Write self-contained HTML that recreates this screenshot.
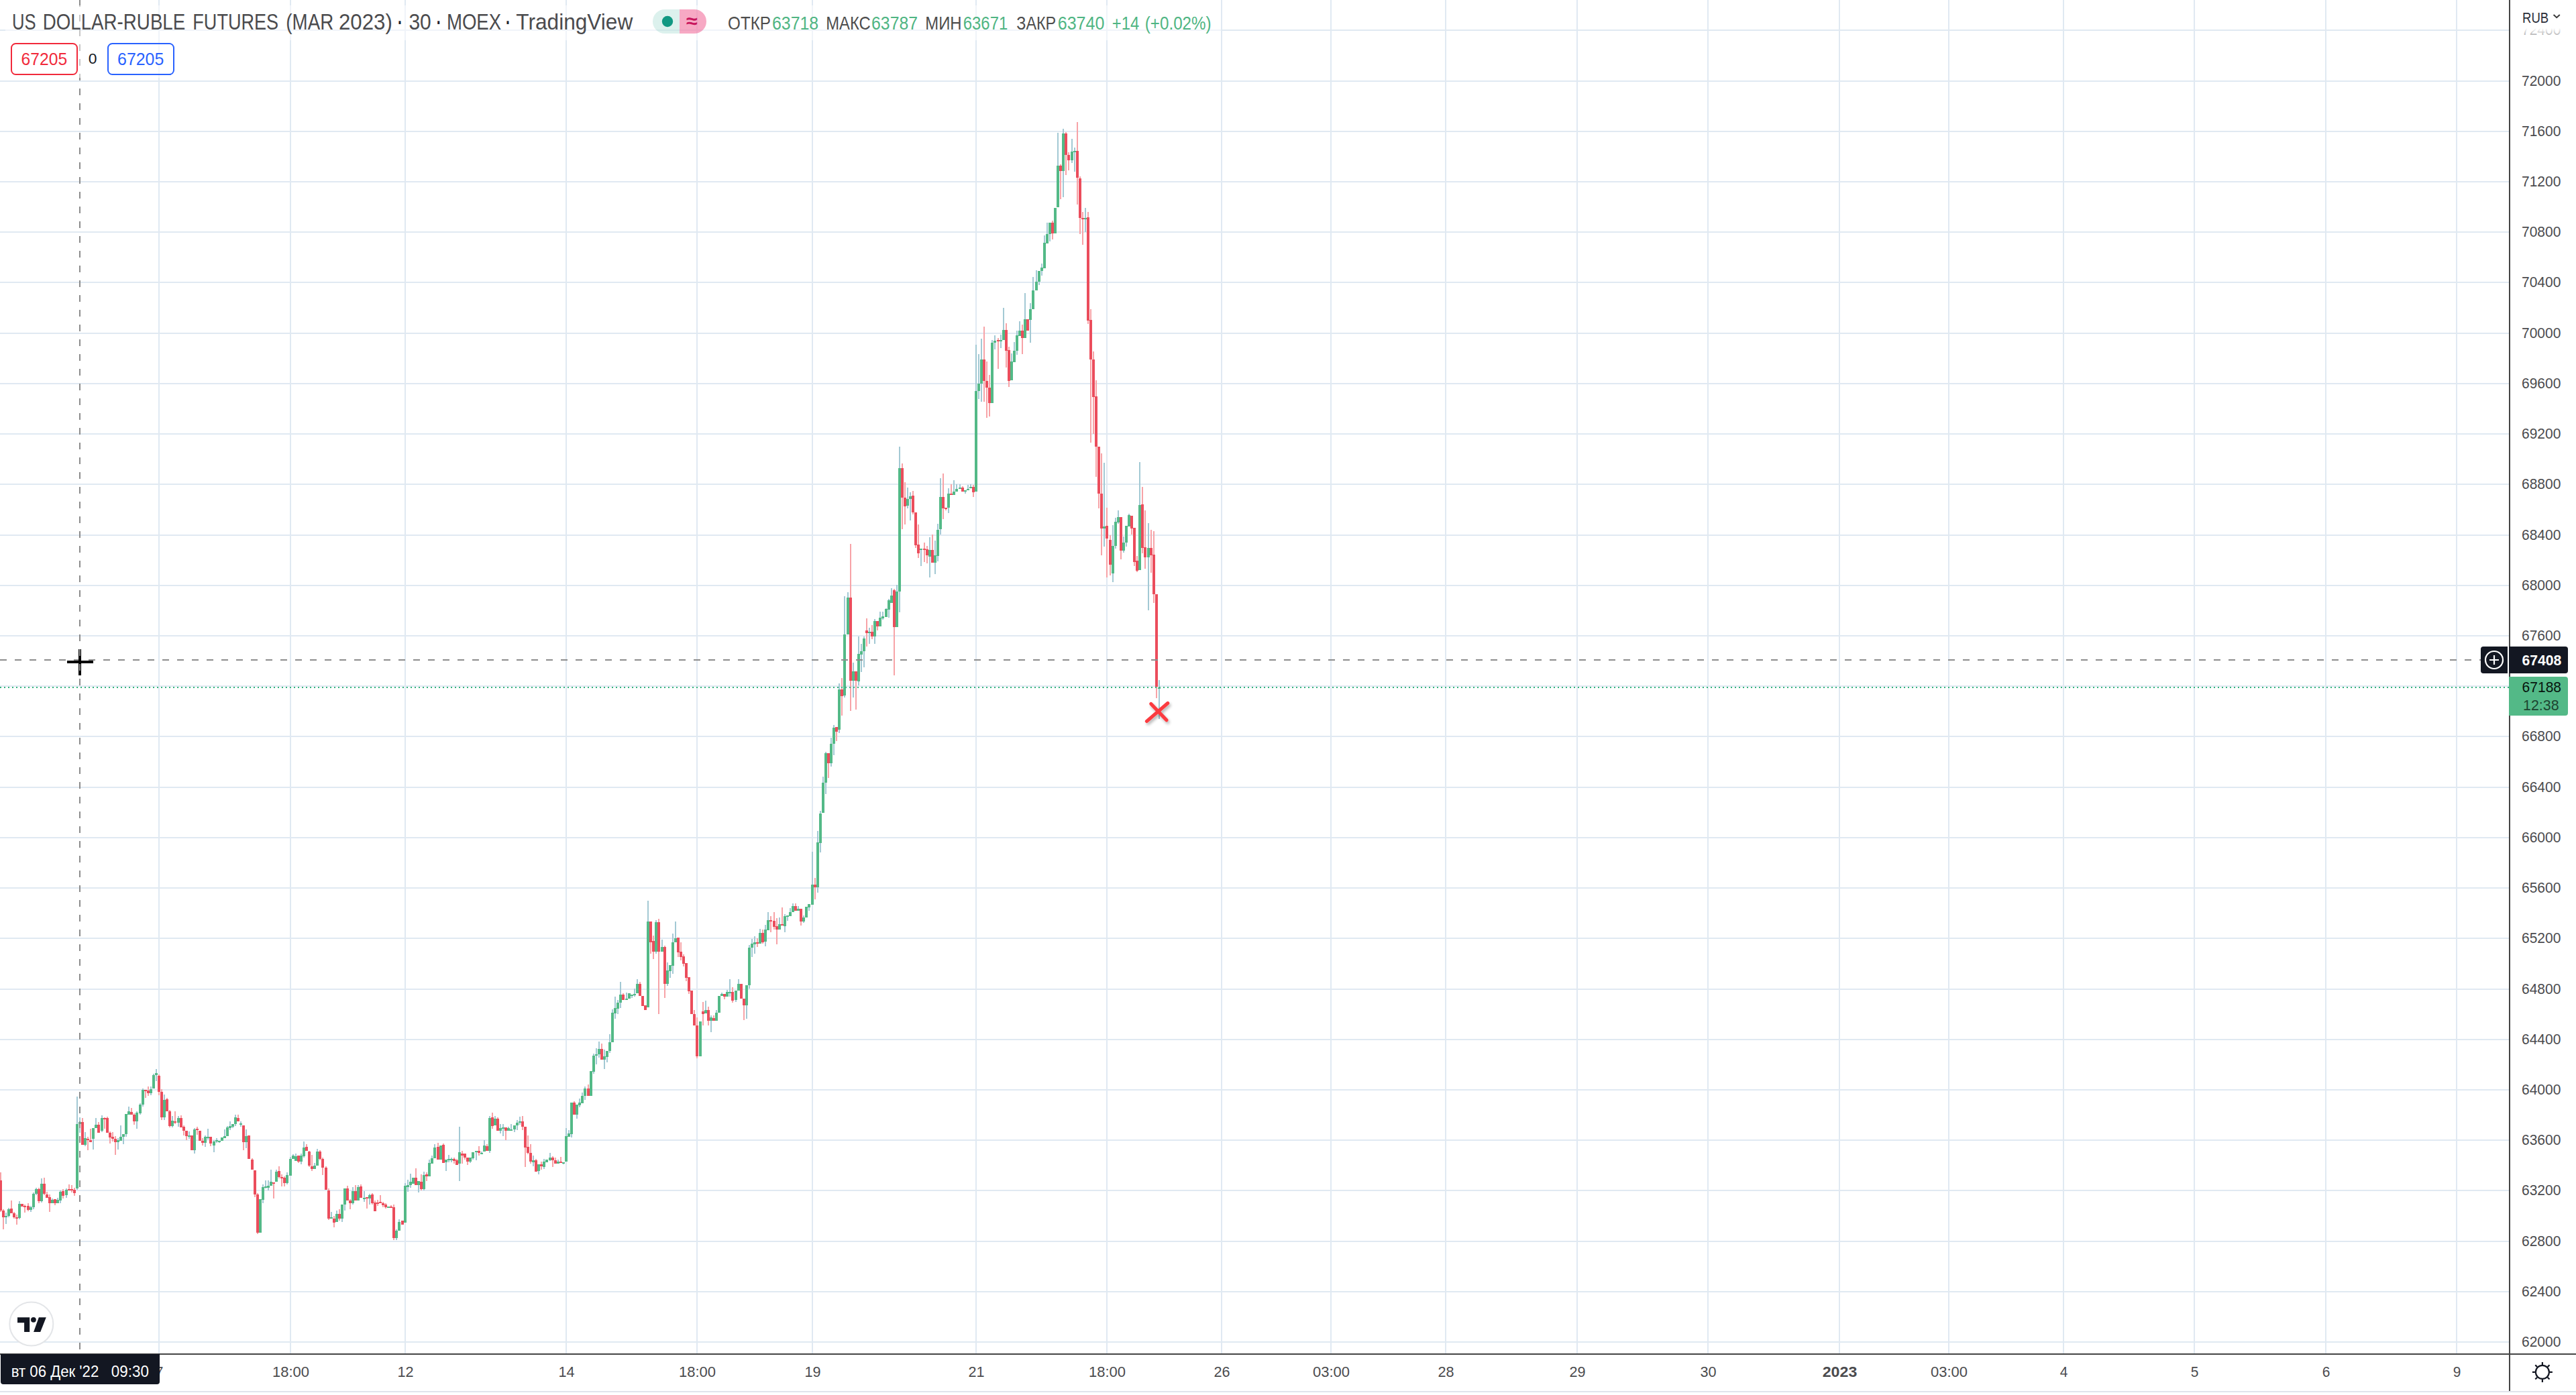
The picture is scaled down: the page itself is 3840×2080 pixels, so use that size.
<!DOCTYPE html>
<html lang="ru"><head><meta charset="utf-8"><title>US DOLLAR-RUBLE FUTURES</title>
<style>html,body{margin:0;padding:0;background:#fff}svg{display:block;width:100vw;height:auto}</style></head>
<body>
<svg width="3840" height="2080" viewBox="0 0 3840 2080" font-family='"Liberation Sans", sans-serif' shape-rendering="crispEdges">
<rect x="0" y="0" width="3840" height="2080" fill="#ffffff"/>
<g fill="#e0e9f2">
<rect x="236" y="0" width="2" height="2018" fill="#e0e9f2"/>
<rect x="432" y="0" width="2" height="2018" fill="#e0e9f2"/>
<rect x="603" y="0" width="2" height="2018" fill="#e0e9f2"/>
<rect x="843" y="0" width="2" height="2018" fill="#e0e9f2"/>
<rect x="1038" y="0" width="2" height="2018" fill="#e0e9f2"/>
<rect x="1210" y="0" width="2" height="2018" fill="#e0e9f2"/>
<rect x="1454" y="0" width="2" height="2018" fill="#e0e9f2"/>
<rect x="1649" y="0" width="2" height="2018" fill="#e0e9f2"/>
<rect x="1820" y="0" width="2" height="2018" fill="#e0e9f2"/>
<rect x="1983" y="0" width="2" height="2018" fill="#e0e9f2"/>
<rect x="2154" y="0" width="2" height="2018" fill="#e0e9f2"/>
<rect x="2350" y="0" width="2" height="2018" fill="#e0e9f2"/>
<rect x="2545" y="0" width="2" height="2018" fill="#e0e9f2"/>
<rect x="2741" y="0" width="2" height="2018" fill="#e0e9f2"/>
<rect x="2904" y="0" width="2" height="2018" fill="#e0e9f2"/>
<rect x="3075" y="0" width="2" height="2018" fill="#e0e9f2"/>
<rect x="3270" y="0" width="2" height="2018" fill="#e0e9f2"/>
<rect x="3466" y="0" width="2" height="2018" fill="#e0e9f2"/>
<rect x="3661" y="0" width="2" height="2018" fill="#e0e9f2"/>
<rect x="0" y="44" width="3740" height="2" fill="#e0e9f2"/>
<rect x="0" y="120" width="3740" height="2" fill="#e0e9f2"/>
<rect x="0" y="195" width="3740" height="2" fill="#e0e9f2"/>
<rect x="0" y="270" width="3740" height="2" fill="#e0e9f2"/>
<rect x="0" y="345" width="3740" height="2" fill="#e0e9f2"/>
<rect x="0" y="420" width="3740" height="2" fill="#e0e9f2"/>
<rect x="0" y="496" width="3740" height="2" fill="#e0e9f2"/>
<rect x="0" y="571" width="3740" height="2" fill="#e0e9f2"/>
<rect x="0" y="646" width="3740" height="2" fill="#e0e9f2"/>
<rect x="0" y="721" width="3740" height="2" fill="#e0e9f2"/>
<rect x="0" y="797" width="3740" height="2" fill="#e0e9f2"/>
<rect x="0" y="872" width="3740" height="2" fill="#e0e9f2"/>
<rect x="0" y="947" width="3740" height="2" fill="#e0e9f2"/>
<rect x="0" y="1022" width="3740" height="2" fill="#e0e9f2"/>
<rect x="0" y="1097" width="3740" height="2" fill="#e0e9f2"/>
<rect x="0" y="1173" width="3740" height="2" fill="#e0e9f2"/>
<rect x="0" y="1248" width="3740" height="2" fill="#e0e9f2"/>
<rect x="0" y="1323" width="3740" height="2" fill="#e0e9f2"/>
<rect x="0" y="1398" width="3740" height="2" fill="#e0e9f2"/>
<rect x="0" y="1474" width="3740" height="2" fill="#e0e9f2"/>
<rect x="0" y="1549" width="3740" height="2" fill="#e0e9f2"/>
<rect x="0" y="1624" width="3740" height="2" fill="#e0e9f2"/>
<rect x="0" y="1699" width="3740" height="2" fill="#e0e9f2"/>
<rect x="0" y="1774" width="3740" height="2" fill="#e0e9f2"/>
<rect x="0" y="1850" width="3740" height="2" fill="#e0e9f2"/>
<rect x="0" y="1925" width="3740" height="2" fill="#e0e9f2"/>
<rect x="0" y="2000" width="3740" height="2" fill="#e0e9f2"/>
</g>
<path d="M8 1808h2v17h-2zM12 1801h2v14h-2zM28 1791h2v27h-2zM45 1798h2v9h-2zM49 1778h2v25h-2zM53 1771h2v11h-2zM61 1757h2v36h-2zM77 1787h2v7h-2zM85 1786h2v8h-2zM89 1775h2v19h-2zM98 1772h2v14h-2zM114 1635h2v139h-2zM118 1666h2v23h-2zM126 1688h2v21h-2zM138 1682h2v32h-2zM142 1667h2v15h-2zM151 1663h2v25h-2zM175 1697h2v17h-2zM179 1678h2v23h-2zM183 1691h2v15h-2zM187 1661h2v34h-2zM191 1650h2v12h-2zM203 1657h2v26h-2zM208 1645h2v17h-2zM212 1623h2v27h-2zM224 1620h2v13h-2zM228 1601h2v22h-2zM232 1594h2v18h-2zM244 1632h2v38h-2zM256 1664h2v17h-2zM265 1664h2v16h-2zM281 1687h2v11h-2zM289 1682h2v38h-2zM305 1693h2v17h-2zM309 1683h2v16h-2zM318 1700h2v18h-2zM322 1697h2v7h-2zM326 1701h2v3h-2zM330 1696h2v5h-2zM334 1684h2v13h-2zM338 1679h2v15h-2zM342 1672h2v13h-2zM346 1676h2v6h-2zM350 1662h2v17h-2zM358 1672h2v8h-2zM366 1684h2v28h-2zM387 1788h2v50h-2zM391 1766h2v28h-2zM395 1760h2v12h-2zM399 1760h2v15h-2zM403 1744h2v24h-2zM411 1744h2v18h-2zM427 1748h2v18h-2zM432 1725h2v28h-2zM436 1721h2v7h-2zM440 1720h2v11h-2zM448 1720h2v16h-2zM452 1702h2v24h-2zM468 1734h2v9h-2zM472 1713h2v25h-2zM493 1807h2v10h-2zM501 1805h2v17h-2zM509 1796h2v26h-2zM513 1772h2v33h-2zM525 1770h2v26h-2zM533 1767h2v23h-2zM542 1776h2v16h-2zM550 1780h2v16h-2zM578 1799h2v1h-2zM590 1833h2v16h-2zM594 1818h2v17h-2zM603 1764h2v59h-2zM607 1759h2v18h-2zM611 1750h2v21h-2zM615 1756h2v9h-2zM623 1761h2v17h-2zM631 1747h2v28h-2zM639 1729h2v25h-2zM643 1723h2v12h-2zM647 1706h2v21h-2zM656 1708h2v21h-2zM664 1729h2v17h-2zM668 1722h2v11h-2zM672 1726h2v7h-2zM684 1680h2v81h-2zM700 1726h2v8h-2zM704 1718h2v11h-2zM709 1716h2v14h-2zM717 1717h2v4h-2zM721 1700h2v17h-2zM729 1664h2v55h-2zM737 1664h2v14h-2zM745 1676h2v14h-2zM749 1676h2v18h-2zM757 1680h2v6h-2zM761 1676h2v9h-2zM766 1678h2v10h-2zM770 1670h2v15h-2zM774 1665h2v12h-2zM794 1723h2v16h-2zM802 1736h2v15h-2zM810 1728h2v15h-2zM814 1729h2v4h-2zM819 1719h2v12h-2zM831 1729h2v6h-2zM839 1733h2v3h-2zM843 1682h2v50h-2zM847 1685h2v10h-2zM851 1644h2v52h-2zM859 1647h2v21h-2zM863 1638h2v13h-2zM867 1629h2v16h-2zM871 1620h2v20h-2zM880 1597h2v37h-2zM884 1571h2v30h-2zM888 1563h2v24h-2zM892 1553h2v24h-2zM900 1565h2v29h-2zM904 1567h2v17h-2zM908 1542h2v28h-2zM912 1505h2v49h-2zM916 1486h2v33h-2zM920 1491h2v21h-2zM924 1464h2v39h-2zM933 1480h2v10h-2zM937 1481h2v8h-2zM941 1483h2v5h-2zM945 1474h2v12h-2zM949 1460h2v21h-2zM965 1343h2v159h-2zM977 1372h2v50h-2zM986 1401h2v18h-2zM994 1435h2v35h-2zM998 1439h2v19h-2zM1002 1392h2v60h-2zM1006 1374h2v31h-2zM1043 1523h2v52h-2zM1051 1492h2v19h-2zM1059 1514h2v25h-2zM1067 1506h2v16h-2zM1071 1485h2v25h-2zM1075 1480h2v5h-2zM1083 1476h2v10h-2zM1087 1460h2v26h-2zM1096 1477h2v17h-2zM1100 1460h2v17h-2zM1112 1469h2v50h-2zM1116 1409h2v65h-2zM1120 1400h2v27h-2zM1124 1396h2v26h-2zM1132 1385h2v22h-2zM1140 1379h2v32h-2zM1144 1360h2v27h-2zM1161 1368h2v18h-2zM1169 1363h2v27h-2zM1173 1365h2v8h-2zM1177 1354h2v12h-2zM1181 1347h2v13h-2zM1189 1351h2v7h-2zM1197 1365h2v11h-2zM1201 1352h2v16h-2zM1205 1348h2v10h-2zM1210 1270h2v79h-2zM1218 1239h2v92h-2zM1222 1209h2v62h-2zM1226 1158h2v54h-2zM1230 1121h2v63h-2zM1238 1100h2v43h-2zM1242 1081h2v45h-2zM1250 1019h2v74h-2zM1258 889h2v151h-2zM1263 883h2v63h-2zM1271 988h2v52h-2zM1279 949h2v73h-2zM1283 960h2v42h-2zM1287 949h2v46h-2zM1295 936h2v24h-2zM1303 923h2v37h-2zM1311 912h2v22h-2zM1315 912h2v12h-2zM1320 907h2v13h-2zM1324 893h2v28h-2zM1328 877h2v22h-2zM1336 872h2v63h-2zM1340 666h2v247h-2zM1352 727h2v31h-2zM1356 734h2v42h-2zM1372 818h2v26h-2zM1385 801h2v60h-2zM1393 806h2v50h-2zM1397 781h2v56h-2zM1401 713h2v84h-2zM1413 728h2v37h-2zM1421 716h2v22h-2zM1425 722h2v11h-2zM1430 722h2v7h-2zM1438 731h2v5h-2zM1442 723h2v6h-2zM1446 722h2v5h-2zM1454 514h2v219h-2zM1458 528h2v67h-2zM1462 505h2v94h-2zM1478 507h2v94h-2zM1482 500h2v21h-2zM1491 499h2v20h-2zM1495 459h2v48h-2zM1507 527h2v40h-2zM1511 510h2v30h-2zM1515 493h2v36h-2zM1519 479h2v22h-2zM1527 437h2v67h-2zM1535 452h2v59h-2zM1539 413h2v48h-2zM1544 403h2v30h-2zM1548 404h2v21h-2zM1552 393h2v18h-2zM1556 351h2v49h-2zM1560 332h2v31h-2zM1564 332h2v28h-2zM1572 310h2v38h-2zM1576 198h2v111h-2zM1584 192h2v102h-2zM1597 207h2v36h-2zM1601 220h2v36h-2zM1617 310h2v36h-2zM1645 690h2v125h-2zM1658 783h2v85h-2zM1662 772h2v46h-2zM1666 761h2v20h-2zM1674 800h2v24h-2zM1678 784h2v31h-2zM1682 766h2v19h-2zM1698 689h2v161h-2zM1711 780h2v130h-2zM1727 1014h2v58h-2z" fill="#a3c9d4"/>
<path d="M0 1748h2v59h-2zM4 1803h2v30h-2zM16 1790h2v19h-2zM20 1807h2v10h-2zM24 1811h2v15h-2zM32 1795h2v4h-2zM36 1796h2v12h-2zM41 1794h2v12h-2zM57 1771h2v23h-2zM65 1756h2v26h-2zM69 1777h2v9h-2zM73 1781h2v26h-2zM81 1788h2v9h-2zM93 1773h2v14h-2zM102 1766h2v9h-2zM106 1767h2v11h-2zM110 1771h2v12h-2zM122 1667h2v40h-2zM130 1695h2v20h-2zM134 1683h2v20h-2zM146 1673h2v16h-2zM155 1666h2v17h-2zM159 1665h2v24h-2zM163 1687h2v18h-2zM167 1688h2v14h-2zM171 1694h2v28h-2zM195 1652h2v10h-2zM199 1660h2v17h-2zM216 1625h2v12h-2zM220 1620h2v14h-2zM236 1602h2v31h-2zM240 1624h2v46h-2zM248 1637h2v20h-2zM252 1655h2v26h-2zM260 1657h2v19h-2zM269 1663h2v18h-2zM273 1678h2v15h-2zM277 1686h2v14h-2zM285 1693h2v22h-2zM293 1680h2v12h-2zM297 1686h2v15h-2zM301 1697h2v11h-2zM313 1695h2v14h-2zM354 1662h2v10h-2zM362 1678h2v37h-2zM370 1693h2v35h-2zM375 1727h2v17h-2zM379 1745h2v40h-2zM383 1779h2v61h-2zM407 1763h2v24h-2zM415 1739h2v18h-2zM419 1751h2v18h-2zM423 1754h2v15h-2zM444 1723h2v11h-2zM456 1706h2v10h-2zM460 1716h2v24h-2zM464 1722h2v24h-2zM476 1715h2v15h-2zM480 1726h2v26h-2zM485 1739h2v35h-2zM489 1772h2v47h-2zM497 1813h2v17h-2zM505 1803h2v17h-2zM517 1768h2v22h-2zM521 1788h2v15h-2zM529 1767h2v23h-2zM537 1766h2v20h-2zM546 1785h2v17h-2zM554 1779h2v17h-2zM558 1790h2v16h-2zM562 1789h2v9h-2zM566 1782h2v12h-2zM570 1792h2v8h-2zM574 1794h2v8h-2zM582 1797h2v3h-2zM586 1796h2v53h-2zM599 1820h2v6h-2zM619 1742h2v25h-2zM627 1751h2v24h-2zM635 1748h2v13h-2zM652 1704h2v25h-2zM660 1705h2v29h-2zM676 1726h2v9h-2zM680 1728h2v9h-2zM688 1716h2v19h-2zM692 1720h2v9h-2zM696 1726h2v11h-2zM713 1709h2v14h-2zM725 1706h2v10h-2zM733 1659h2v24h-2zM741 1666h2v20h-2zM753 1681h2v19h-2zM778 1664h2v21h-2zM782 1680h2v60h-2zM786 1693h2v28h-2zM790 1706h2v29h-2zM798 1728h2v19h-2zM806 1732h2v12h-2zM823 1724h2v16h-2zM827 1726h2v9h-2zM835 1725h2v9h-2zM855 1642h2v20h-2zM876 1617h2v17h-2zM896 1556h2v24h-2zM928 1481h2v10h-2zM953 1464h2v21h-2zM957 1485h2v15h-2zM961 1499h2v7h-2zM969 1374h2v48h-2zM973 1395h2v35h-2zM981 1370h2v142h-2zM990 1410h2v78h-2zM1010 1398h2v29h-2zM1014 1405h2v27h-2zM1018 1423h2v18h-2zM1022 1436h2v27h-2zM1026 1457h2v25h-2zM1030 1477h2v35h-2zM1034 1506h2v23h-2zM1038 1517h2v61h-2zM1047 1494h2v35h-2zM1055 1501h2v28h-2zM1063 1514h2v8h-2zM1079 1482h2v8h-2zM1091 1472h2v23h-2zM1104 1467h2v22h-2zM1108 1489h2v32h-2zM1128 1399h2v13h-2zM1136 1386h2v21h-2zM1148 1366h2v24h-2zM1153 1360h2v26h-2zM1157 1369h2v39h-2zM1165 1353h2v27h-2zM1185 1347h2v11h-2zM1193 1355h2v25h-2zM1214 1309h2v32h-2zM1234 1123h2v37h-2zM1246 1084h2v21h-2zM1254 1011h2v56h-2zM1267 811h2v249h-2zM1275 1001h2v57h-2zM1291 922h2v42h-2zM1299 932h2v21h-2zM1307 926h2v14h-2zM1332 878h2v129h-2zM1344 691h2v98h-2zM1348 719h2v63h-2zM1360 732h2v35h-2zM1364 764h2v53h-2zM1368 782h2v50h-2zM1377 809h2v29h-2zM1381 814h2v26h-2zM1389 797h2v42h-2zM1405 706h2v68h-2zM1409 757h2v4h-2zM1417 722h2v16h-2zM1434 725h2v8h-2zM1450 723h2v18h-2zM1466 487h2v112h-2zM1470 539h2v84h-2zM1474 559h2v62h-2zM1487 504h2v46h-2zM1499 482h2v66h-2zM1503 517h2v60h-2zM1523 484h2v44h-2zM1531 476h2v17h-2zM1568 329h2v28h-2zM1580 245h2v52h-2zM1588 197h2v64h-2zM1592 227h2v27h-2zM1605 182h2v123h-2zM1609 263h2v86h-2zM1613 316h2v49h-2zM1621 316h2v167h-2zM1625 461h2v199h-2zM1629 524h2v123h-2zM1633 567h2v144h-2zM1637 666h2v92h-2zM1641 676h2v152h-2zM1649 757h2v104h-2zM1654 798h2v60h-2zM1670 771h2v63h-2zM1686 769h2v28h-2zM1690 787h2v57h-2zM1694 829h2v24h-2zM1702 726h2v99h-2zM1706 761h2v87h-2zM1715 790h2v64h-2zM1719 792h2v107h-2zM1723 886h2v155h-2z" fill="#f7a3a7"/>
<path d="M7 1813h4v2h-4zM11 1803h4v10h-4zM27 1795h4v21h-4zM44 1800h4v4h-4zM48 1780h4v20h-4zM52 1773h4v7h-4zM60 1765h4v26h-4zM76 1789h4v5h-4zM84 1789h4v5h-4zM88 1777h4v13h-4zM97 1774h4v8h-4zM113 1676h4v96h-4zM117 1673h4v3h-4zM125 1697h4v10h-4zM137 1682h4v16h-4zM141 1677h4v5h-4zM150 1667h4v19h-4zM174 1700h4v3h-4zM178 1695h4v6h-4zM182 1691h4v4h-4zM186 1661h4v30h-4zM190 1657h4v5h-4zM202 1659h4v13h-4zM207 1647h4v13h-4zM211 1625h4v22h-4zM223 1624h4v6h-4zM227 1603h4v20h-4zM231 1600h4v3h-4zM243 1640h4v26h-4zM255 1671h4v8h-4zM264 1667h4v7h-4zM280 1693h4v2h-4zM288 1684h4v31h-4zM304 1695h4v9h-4zM308 1695h4v2h-4zM317 1702h4v6h-4zM321 1700h4v2h-4zM325 1701h4v2h-4zM329 1696h4v5h-4zM333 1694h4v3h-4zM337 1681h4v13h-4zM341 1679h4v3h-4zM345 1676h4v4h-4zM349 1666h4v10h-4zM357 1675h4v2h-4zM365 1694h4v9h-4zM386 1788h4v50h-4zM390 1770h4v19h-4zM394 1769h4v2h-4zM398 1768h4v3h-4zM402 1762h4v6h-4zM410 1747h4v15h-4zM426 1752h4v12h-4zM431 1728h4v25h-4zM435 1723h4v5h-4zM439 1724h4v7h-4zM447 1723h4v9h-4zM451 1711h4v13h-4zM467 1738h4v5h-4zM471 1717h4v21h-4zM492 1815h4v2h-4zM500 1810h4v12h-4zM508 1796h4v21h-4zM512 1772h4v24h-4zM524 1776h4v18h-4zM532 1770h4v20h-4zM541 1786h4v2h-4zM549 1782h4v5h-4zM577 1799h4v2h-4zM589 1835h4v11h-4zM593 1822h4v13h-4zM602 1768h4v55h-4zM606 1767h4v3h-4zM610 1762h4v5h-4zM614 1756h4v9h-4zM622 1761h4v6h-4zM630 1752h4v21h-4zM638 1734h4v20h-4zM642 1727h4v8h-4zM646 1711h4v16h-4zM655 1708h4v21h-4zM663 1729h4v4h-4zM667 1728h4v2h-4zM671 1728h4v2h-4zM683 1718h4v17h-4zM699 1726h4v6h-4zM703 1718h4v9h-4zM708 1716h4v2h-4zM716 1719h4v2h-4zM720 1708h4v9h-4zM728 1667h4v49h-4zM736 1668h4v10h-4zM744 1682h4v4h-4zM748 1681h4v2h-4zM756 1682h4v4h-4zM760 1684h4v2h-4zM765 1678h4v6h-4zM769 1674h4v4h-4zM773 1672h4v2h-4zM793 1730h4v3h-4zM801 1736h4v10h-4zM809 1732h4v8h-4zM813 1729h4v4h-4zM818 1726h4v4h-4zM830 1732h4v3h-4zM838 1733h4v2h-4zM842 1694h4v38h-4zM846 1690h4v5h-4zM850 1644h4v47h-4zM858 1647h4v15h-4zM862 1644h4v4h-4zM866 1634h4v11h-4zM870 1623h4v11h-4zM879 1597h4v37h-4zM883 1574h4v24h-4zM887 1572h4v2h-4zM891 1564h4v8h-4zM899 1575h4v5h-4zM903 1567h4v9h-4zM907 1554h4v13h-4zM911 1510h4v44h-4zM915 1503h4v8h-4zM919 1495h4v9h-4zM923 1483h4v12h-4zM932 1489h4v2h-4zM936 1481h4v8h-4zM940 1483h4v2h-4zM944 1482h4v2h-4zM948 1467h4v14h-4zM964 1374h4v128h-4zM976 1375h4v44h-4zM985 1412h4v7h-4zM993 1447h4v20h-4zM997 1439h4v9h-4zM1001 1405h4v35h-4zM1005 1399h4v6h-4zM1042 1523h4v52h-4zM1050 1506h4v5h-4zM1058 1517h4v5h-4zM1066 1510h4v12h-4zM1070 1485h4v25h-4zM1074 1482h4v3h-4zM1082 1479h4v7h-4zM1086 1479h4v2h-4zM1095 1477h4v14h-4zM1099 1467h4v10h-4zM1111 1469h4v30h-4zM1115 1413h4v56h-4zM1119 1407h4v6h-4zM1123 1405h4v3h-4zM1131 1391h4v16h-4zM1139 1386h4v18h-4zM1143 1372h4v15h-4zM1160 1378h4v8h-4zM1168 1366h4v15h-4zM1172 1365h4v2h-4zM1176 1360h4v6h-4zM1180 1351h4v9h-4zM1188 1355h4v3h-4zM1196 1368h4v6h-4zM1200 1352h4v16h-4zM1204 1348h4v5h-4zM1209 1319h4v30h-4zM1217 1256h4v67h-4zM1221 1213h4v44h-4zM1225 1167h4v45h-4zM1229 1123h4v44h-4zM1237 1109h4v29h-4zM1241 1085h4v24h-4zM1249 1028h4v60h-4zM1257 946h4v91h-4zM1262 891h4v55h-4zM1270 1001h4v14h-4zM1278 975h4v41h-4zM1282 971h4v5h-4zM1286 952h4v19h-4zM1294 942h4v2h-4zM1302 926h4v23h-4zM1310 921h4v13h-4zM1314 919h4v3h-4zM1319 908h4v12h-4zM1323 895h4v14h-4zM1327 888h4v11h-4zM1335 882h4v53h-4zM1339 698h4v184h-4zM1351 744h4v10h-4zM1355 740h4v4h-4zM1371 818h4v2h-4zM1384 820h4v10h-4zM1392 828h4v11h-4zM1396 790h4v39h-4zM1400 741h4v48h-4zM1412 736h4v21h-4zM1420 733h4v5h-4zM1424 729h4v4h-4zM1429 727h4v2h-4zM1437 731h4v2h-4zM1441 729h4v2h-4zM1445 726h4v2h-4zM1453 583h4v150h-4zM1457 572h4v11h-4zM1461 536h4v36h-4zM1477 511h4v90h-4zM1481 508h4v3h-4zM1490 507h4v2h-4zM1494 492h4v15h-4zM1506 539h4v28h-4zM1510 523h4v17h-4zM1514 500h4v23h-4zM1518 493h4v8h-4zM1526 476h4v28h-4zM1534 461h4v16h-4zM1538 433h4v28h-4zM1543 420h4v13h-4zM1547 404h4v16h-4zM1551 399h4v5h-4zM1555 362h4v38h-4zM1559 349h4v14h-4zM1563 332h4v17h-4zM1571 310h4v38h-4zM1575 247h4v62h-4zM1583 199h4v56h-4zM1596 226h4v13h-4zM1600 225h4v2h-4zM1616 325h4v2h-4zM1644 785h4v3h-4zM1657 814h4v41h-4zM1661 778h4v36h-4zM1665 771h4v8h-4zM1673 809h4v12h-4zM1677 784h4v25h-4zM1681 768h4v17h-4zM1697 753h4v97h-4zM1710 817h4v14h-4zM1726 1025h4v2h-4z" fill="#53b987"/>
<path d="M-1 1760h4v45h-4zM3 1805h4v10h-4zM15 1802h4v7h-4zM19 1809h4v6h-4zM23 1815h4v2h-4zM31 1795h4v4h-4zM35 1798h4v2h-4zM40 1798h4v6h-4zM56 1773h4v18h-4zM64 1765h4v15h-4zM68 1781h4v5h-4zM72 1785h4v9h-4zM80 1788h4v6h-4zM92 1776h4v7h-4zM101 1773h4v2h-4zM105 1773h4v2h-4zM109 1774h4v5h-4zM121 1673h4v34h-4zM129 1698h4v2h-4zM133 1700h4v3h-4zM145 1677h4v12h-4zM154 1667h4v2h-4zM158 1667h4v22h-4zM162 1689h4v7h-4zM166 1695h4v3h-4zM170 1698h4v5h-4zM194 1658h4v4h-4zM198 1662h4v10h-4zM215 1625h4v2h-4zM219 1626h4v4h-4zM235 1604h4v24h-4zM239 1628h4v38h-4zM247 1639h4v18h-4zM251 1657h4v22h-4zM259 1672h4v2h-4zM268 1667h4v14h-4zM272 1680h4v6h-4zM276 1686h4v8h-4zM284 1693h4v22h-4zM292 1683h4v2h-4zM296 1686h4v15h-4zM300 1701h4v3h-4zM312 1695h4v10h-4zM353 1667h4v5h-4zM361 1678h4v25h-4zM369 1693h4v35h-4zM374 1729h4v15h-4zM378 1745h4v36h-4zM382 1781h4v57h-4zM406 1763h4v2h-4zM414 1746h4v9h-4zM418 1755h4v2h-4zM422 1756h4v8h-4zM443 1723h4v9h-4zM455 1710h4v6h-4zM459 1717h4v21h-4zM463 1739h4v4h-4zM475 1717h4v11h-4zM479 1728h4v13h-4zM484 1741h4v33h-4zM488 1775h4v42h-4zM496 1817h4v6h-4zM504 1810h4v7h-4zM516 1772h4v18h-4zM520 1790h4v4h-4zM528 1776h4v14h-4zM536 1769h4v17h-4zM545 1785h4v2h-4zM553 1781h4v13h-4zM557 1793h4v13h-4zM561 1793h4v2h-4zM565 1792h4v2h-4zM569 1794h4v3h-4zM573 1796h4v4h-4zM581 1799h4v2h-4zM585 1800h4v46h-4zM598 1820h4v6h-4zM618 1756h4v11h-4zM626 1762h4v11h-4zM634 1751h4v3h-4zM651 1710h4v19h-4zM659 1707h4v27h-4zM675 1728h4v3h-4zM679 1730h4v7h-4zM687 1720h4v3h-4zM691 1720h4v6h-4zM695 1726h4v6h-4zM712 1716h4v3h-4zM724 1709h4v7h-4zM732 1666h4v13h-4zM740 1668h4v18h-4zM752 1681h4v5h-4zM777 1672h4v8h-4zM781 1680h4v31h-4zM785 1710h4v9h-4zM789 1719h4v13h-4zM797 1730h4v17h-4zM805 1736h4v3h-4zM822 1726h4v4h-4zM826 1730h4v5h-4zM834 1732h4v2h-4zM854 1644h4v18h-4zM875 1623h4v11h-4zM895 1564h4v16h-4zM927 1483h4v8h-4zM952 1467h4v18h-4zM956 1485h4v15h-4zM960 1499h4v7h-4zM968 1374h4v31h-4zM972 1403h4v16h-4zM980 1375h4v44h-4zM989 1412h4v55h-4zM1009 1398h4v22h-4zM1013 1419h4v8h-4zM1017 1426h4v11h-4zM1021 1436h4v22h-4zM1025 1457h4v21h-4zM1029 1477h4v35h-4zM1033 1512h4v17h-4zM1037 1529h4v46h-4zM1046 1508h4v4h-4zM1054 1506h4v16h-4zM1062 1518h4v4h-4zM1078 1482h4v4h-4zM1090 1479h4v13h-4zM1103 1467h4v22h-4zM1107 1489h4v10h-4zM1127 1405h4v2h-4zM1135 1391h4v14h-4zM1147 1372h4v2h-4zM1152 1373h4v9h-4zM1156 1381h4v5h-4zM1164 1378h4v2h-4zM1184 1351h4v7h-4zM1192 1355h4v19h-4zM1213 1319h4v4h-4zM1233 1123h4v15h-4zM1245 1084h4v7h-4zM1253 1028h4v10h-4zM1266 891h4v124h-4zM1274 1001h4v14h-4zM1290 940h4v4h-4zM1298 942h4v7h-4zM1306 926h4v8h-4zM1331 880h4v55h-4zM1343 698h4v44h-4zM1347 742h4v13h-4zM1359 739h4v25h-4zM1363 764h4v49h-4zM1367 812h4v13h-4zM1376 818h4v2h-4zM1380 819h4v9h-4zM1388 820h4v19h-4zM1404 741h4v17h-4zM1408 757h4v2h-4zM1416 736h4v2h-4zM1433 727h4v6h-4zM1449 726h4v8h-4zM1465 536h4v32h-4zM1469 568h4v10h-4zM1473 578h4v23h-4zM1486 507h4v2h-4zM1498 492h4v31h-4zM1502 522h4v46h-4zM1522 493h4v11h-4zM1530 476h4v17h-4zM1567 332h4v16h-4zM1579 247h4v8h-4zM1587 199h4v32h-4zM1591 231h4v8h-4zM1604 225h4v40h-4zM1608 266h4v59h-4zM1612 325h4v2h-4zM1620 324h4v154h-4zM1624 477h4v59h-4zM1628 536h4v56h-4zM1632 591h4v75h-4zM1636 666h4v70h-4zM1640 736h4v52h-4zM1648 784h4v19h-4zM1653 805h4v37h-4zM1669 771h4v50h-4zM1685 769h4v19h-4zM1689 787h4v51h-4zM1693 836h4v15h-4zM1701 752h4v65h-4zM1705 816h4v15h-4zM1714 817h4v11h-4zM1718 827h4v59h-4zM1722 886h4v138h-4z" fill="#eb4d5c"/>
<path d="M0 1025H3740" stroke="#35b37e" stroke-width="2" stroke-dasharray="2 4" fill="none"/>
<defs><filter id="sh" x="-40%" y="-40%" width="200%" height="200%"><feGaussianBlur in="SourceAlpha" stdDeviation="2"/><feOffset dx="2" dy="2.5"/><feComponentTransfer><feFuncA type="linear" slope=".3"/></feComponentTransfer><feMerge><feMergeNode/><feMergeNode in="SourceGraphic"/></feMerge></filter></defs>
<g shape-rendering="auto" stroke-linecap="round" fill="none" filter="url(#sh)"><path d="M1715.8 1049.5L1739 1073.7M1740.7 1048.5L1709.5 1075.4" stroke="#fb3b3f" stroke-width="5.2"/></g>
<g shape-rendering="auto"><circle cx="46.8" cy="1974" r="32.5" fill="#fff" stroke="#e3e5e8" stroke-width="2"/><path d="M26 1964.2H44.2V1986H36.1V1972.3H26z" fill="#131722"/><circle cx="49.9" cy="1967.8" r="3.9" fill="#131722"/><path d="M57.9 1964.2H68.8L60.2 1986H50.1z" fill="#131722"/></g>
<path d="M0 984H3740" stroke="#8c8c8c" stroke-width="2" stroke-dasharray="10 12" fill="none"/>
<path d="M119 0V2018" stroke="#8c8c8c" stroke-width="2" stroke-dasharray="10 12" fill="none"/>
<rect x="8" y="8" width="1812" height="52" fill="#fff" fill-opacity=".5"/>
<rect x="8" y="60" width="262" height="56" fill="#fff" fill-opacity=".5"/>
<g shape-rendering="auto">
<text y="44" font-size="33" fill="#4b4b4e"><tspan x="18.115" textLength="35.57" lengthAdjust="spacingAndGlyphs">US</tspan> <tspan x="63.715" textLength="212.57" lengthAdjust="spacingAndGlyphs">DOLLAR-RUBLE</tspan> <tspan x="287.315" textLength="127.77" lengthAdjust="spacingAndGlyphs">FUTURES</tspan> <tspan x="426.315" textLength="70.87" lengthAdjust="spacingAndGlyphs">(MAR</tspan> <tspan x="505.015" textLength="79.77" lengthAdjust="spacingAndGlyphs">2023)</tspan> <tspan x="593" dy="0" textLength="7" lengthAdjust="spacingAndGlyphs" font-size="32" font-weight="bold" fill="#1e222d">·</tspan> <tspan x="609.415" textLength="33.37" lengthAdjust="spacingAndGlyphs">30</tspan> <tspan x="650.8" dy="0" textLength="7" lengthAdjust="spacingAndGlyphs" font-size="32" font-weight="bold" fill="#1e222d">·</tspan> <tspan x="665.915" textLength="81.27" lengthAdjust="spacingAndGlyphs">MOEX</tspan> <tspan x="754.1" dy="0" textLength="7" lengthAdjust="spacingAndGlyphs" font-size="32" font-weight="bold" fill="#1e222d">·</tspan> <tspan x="769.315" textLength="173.97" lengthAdjust="spacingAndGlyphs">TradingView</tspan></text>
<clipPath id="pc"><rect x="973" y="14" width="80" height="36" rx="18"/></clipPath><g clip-path="url(#pc)"><rect x="973" y="14" width="40" height="36" fill="#089981" fill-opacity=".14"/><rect x="1013" y="14" width="40" height="36" fill="#e91e63" fill-opacity=".38"/></g><circle cx="995" cy="32" r="8.2" fill="#119882"/>
<text x="1022.7" y="41.2" font-size="28" fill="#c8155c" font-weight="bold" textLength="16.8" lengthAdjust="spacingAndGlyphs">≈</text>
<text x="1085.08" y="44" font-size="27.2" fill="#4d4d4d" textLength="63.848" lengthAdjust="spacingAndGlyphs">ОТКР</text>
<text x="1150.98" y="44" font-size="27.2" fill="#4fb583" textLength="69.248" lengthAdjust="spacingAndGlyphs">63718</text>
<text x="1231.28" y="44" font-size="27.2" fill="#4d4d4d" textLength="66.548" lengthAdjust="spacingAndGlyphs">МАКС</text>
<text x="1299.08" y="44" font-size="27.2" fill="#4fb583" textLength="68.948" lengthAdjust="spacingAndGlyphs">63787</text>
<text x="1379.28" y="44" font-size="27.2" fill="#4d4d4d" textLength="54.248" lengthAdjust="spacingAndGlyphs">МИН</text>
<text x="1435.78" y="44" font-size="27.2" fill="#4fb583" textLength="66.448" lengthAdjust="spacingAndGlyphs">63671</text>
<text x="1515.28" y="44" font-size="27.2" fill="#4d4d4d" textLength="58.948" lengthAdjust="spacingAndGlyphs">ЗАКР</text>
<text x="1576.78" y="44" font-size="27.2" fill="#4fb583" textLength="69.648" lengthAdjust="spacingAndGlyphs">63740</text>
<text x="1657.78" y="44" font-size="27.2" fill="#4fb583" textLength="40.448" lengthAdjust="spacingAndGlyphs">+14</text>
<text x="1706.78" y="44" font-size="27.2" fill="#4fb583" textLength="98.848" lengthAdjust="spacingAndGlyphs">(+0.02%)</text>
<rect x="17" y="65" width="98" height="46" rx="6.5" fill="#fff" fill-opacity=".3" stroke="#f12a3b" stroke-width="2"/>
<rect x="161" y="65" width="98" height="46" rx="6.5" fill="#fff" fill-opacity=".3" stroke="#2962ff" stroke-width="2"/>
<text x="31.6075" y="97" font-size="26.5" fill="#f12a3b" textLength="68.585" lengthAdjust="spacingAndGlyphs">67205</text>
<text x="131.732" y="95.4" font-size="21.5" fill="#131722" textLength="12.735" lengthAdjust="spacingAndGlyphs">0</text>
<text x="175.108" y="97" font-size="26.5" fill="#2962ff" textLength="69.185" lengthAdjust="spacingAndGlyphs">67205</text>
</g>
<rect x="100" y="985" width="39" height="4" fill="#000"/>
<rect x="117" y="968" width="4" height="39" fill="#000"/>
<path d="M119 968V978M119 990V1000" stroke="#8c8c8c" stroke-width="2" fill="none"/>
<rect x="3742" y="0" width="98" height="2018" fill="#fff"/>
<g shape-rendering="auto">
<text x="3759.03" y="52.2" font-size="21.5" fill="#4b4b4e" textLength="58.335" lengthAdjust="spacingAndGlyphs">72400</text>
<text x="3759.03" y="128.2" font-size="21.5" fill="#4b4b4e" textLength="58.335" lengthAdjust="spacingAndGlyphs">72000</text>
<text x="3759.03" y="203.2" font-size="21.5" fill="#4b4b4e" textLength="58.335" lengthAdjust="spacingAndGlyphs">71600</text>
<text x="3759.03" y="278.2" font-size="21.5" fill="#4b4b4e" textLength="58.335" lengthAdjust="spacingAndGlyphs">71200</text>
<text x="3759.03" y="353.2" font-size="21.5" fill="#4b4b4e" textLength="58.335" lengthAdjust="spacingAndGlyphs">70800</text>
<text x="3759.03" y="428.2" font-size="21.5" fill="#4b4b4e" textLength="58.335" lengthAdjust="spacingAndGlyphs">70400</text>
<text x="3759.03" y="504.2" font-size="21.5" fill="#4b4b4e" textLength="58.335" lengthAdjust="spacingAndGlyphs">70000</text>
<text x="3759.03" y="579.2" font-size="21.5" fill="#4b4b4e" textLength="58.335" lengthAdjust="spacingAndGlyphs">69600</text>
<text x="3759.03" y="654.2" font-size="21.5" fill="#4b4b4e" textLength="58.335" lengthAdjust="spacingAndGlyphs">69200</text>
<text x="3759.03" y="729.2" font-size="21.5" fill="#4b4b4e" textLength="58.335" lengthAdjust="spacingAndGlyphs">68800</text>
<text x="3759.03" y="805.2" font-size="21.5" fill="#4b4b4e" textLength="58.335" lengthAdjust="spacingAndGlyphs">68400</text>
<text x="3759.03" y="880.2" font-size="21.5" fill="#4b4b4e" textLength="58.335" lengthAdjust="spacingAndGlyphs">68000</text>
<text x="3759.03" y="955.2" font-size="21.5" fill="#4b4b4e" textLength="58.335" lengthAdjust="spacingAndGlyphs">67600</text>
<text x="3759.03" y="1105.2" font-size="21.5" fill="#4b4b4e" textLength="58.335" lengthAdjust="spacingAndGlyphs">66800</text>
<text x="3759.03" y="1181.2" font-size="21.5" fill="#4b4b4e" textLength="58.335" lengthAdjust="spacingAndGlyphs">66400</text>
<text x="3759.03" y="1256.2" font-size="21.5" fill="#4b4b4e" textLength="58.335" lengthAdjust="spacingAndGlyphs">66000</text>
<text x="3759.03" y="1331.2" font-size="21.5" fill="#4b4b4e" textLength="58.335" lengthAdjust="spacingAndGlyphs">65600</text>
<text x="3759.03" y="1406.2" font-size="21.5" fill="#4b4b4e" textLength="58.335" lengthAdjust="spacingAndGlyphs">65200</text>
<text x="3759.03" y="1482.2" font-size="21.5" fill="#4b4b4e" textLength="58.335" lengthAdjust="spacingAndGlyphs">64800</text>
<text x="3759.03" y="1557.2" font-size="21.5" fill="#4b4b4e" textLength="58.335" lengthAdjust="spacingAndGlyphs">64400</text>
<text x="3759.03" y="1632.2" font-size="21.5" fill="#4b4b4e" textLength="58.335" lengthAdjust="spacingAndGlyphs">64000</text>
<text x="3759.03" y="1707.2" font-size="21.5" fill="#4b4b4e" textLength="58.335" lengthAdjust="spacingAndGlyphs">63600</text>
<text x="3759.03" y="1782.2" font-size="21.5" fill="#4b4b4e" textLength="58.335" lengthAdjust="spacingAndGlyphs">63200</text>
<text x="3759.03" y="1858.2" font-size="21.5" fill="#4b4b4e" textLength="58.335" lengthAdjust="spacingAndGlyphs">62800</text>
<text x="3759.03" y="1933.2" font-size="21.5" fill="#4b4b4e" textLength="58.335" lengthAdjust="spacingAndGlyphs">62400</text>
<text x="3759.03" y="2008.2" font-size="21.5" fill="#4b4b4e" textLength="58.335" lengthAdjust="spacingAndGlyphs">62000</text>
</g>
<defs><linearGradient id="fd" x1="0" y1="0" x2="0" y2="1"><stop offset="0" stop-color="#fff" stop-opacity="1"/><stop offset="1" stop-color="#fff" stop-opacity="0"/></linearGradient></defs>
<rect x="3742" y="42" width="98" height="24" fill="url(#fd)"/>
<rect x="3742" y="0" width="98" height="42" fill="#fff"/>
<g shape-rendering="auto">
<text x="3760.01" y="33.6" font-size="22" fill="#2a2e39" textLength="39.18" lengthAdjust="spacingAndGlyphs">RUB</text>
<path d="M3806.6 22L3811.2 26.2L3815.8 22" stroke="#3a3a3a" stroke-width="2" fill="none"/>
</g>
<rect x="3740" y="0" width="2" height="2074" fill="#454545"/>
<rect x="0" y="2018" width="3840" height="2" fill="#454545"/>
<g shape-rendering="auto">
<path d="M3702 964H3738V1004H3702a4 4 0 0 1-4-4V968a4 4 0 0 1 4-4z" fill="#131722"/>
<path d="M3740 964H3824a4 4 0 0 1 4 4V1000a4 4 0 0 1-4 4H3740z" fill="#131722"/>
<circle cx="3718" cy="984" r="13" fill="none" stroke="#fff" stroke-width="2.2"/><path d="M3711 984H3725M3718 977V991" stroke="#fff" stroke-width="2.2"/>
<text x="3759.43" y="992" font-size="21.5" fill="#fff" font-weight="bold" textLength="58.935" lengthAdjust="spacingAndGlyphs">67408</text>
<path d="M3740 1009H3824a4 4 0 0 1 4 4V1063a4 4 0 0 1-4 4H3740z" fill="#53b987"/>
<text x="3759.53" y="1032.4" font-size="21.5" fill="#07150e" textLength="58.535" lengthAdjust="spacingAndGlyphs">67188</text>
<text x="3761.03" y="1059" font-size="21.5" fill="#1d4431" textLength="53.635" lengthAdjust="spacingAndGlyphs">12:38</text>
</g>
<g shape-rendering="auto">
<text x="231.674" y="2053" font-size="22.8" fill="#4b4b4e" textLength="11.652" lengthAdjust="spacingAndGlyphs">7</text>
<text x="405.974" y="2053" font-size="22.8" fill="#4b4b4e" textLength="55.052" lengthAdjust="spacingAndGlyphs">18:00</text>
<text x="592.474" y="2053" font-size="22.8" fill="#4b4b4e" textLength="24.052" lengthAdjust="spacingAndGlyphs">12</text>
<text x="832.474" y="2053" font-size="22.8" fill="#4b4b4e" textLength="24.052" lengthAdjust="spacingAndGlyphs">14</text>
<text x="1011.97" y="2053" font-size="22.8" fill="#4b4b4e" textLength="55.052" lengthAdjust="spacingAndGlyphs">18:00</text>
<text x="1199.47" y="2053" font-size="22.8" fill="#4b4b4e" textLength="24.052" lengthAdjust="spacingAndGlyphs">19</text>
<text x="1443.47" y="2053" font-size="22.8" fill="#4b4b4e" textLength="24.052" lengthAdjust="spacingAndGlyphs">21</text>
<text x="1622.97" y="2053" font-size="22.8" fill="#4b4b4e" textLength="55.052" lengthAdjust="spacingAndGlyphs">18:00</text>
<text x="1809.47" y="2053" font-size="22.8" fill="#4b4b4e" textLength="24.052" lengthAdjust="spacingAndGlyphs">26</text>
<text x="1956.97" y="2053" font-size="22.8" fill="#4b4b4e" textLength="55.052" lengthAdjust="spacingAndGlyphs">03:00</text>
<text x="2143.47" y="2053" font-size="22.8" fill="#4b4b4e" textLength="24.052" lengthAdjust="spacingAndGlyphs">28</text>
<text x="2339.47" y="2053" font-size="22.8" fill="#4b4b4e" textLength="24.052" lengthAdjust="spacingAndGlyphs">29</text>
<text x="2534.47" y="2053" font-size="22.8" fill="#4b4b4e" textLength="24.052" lengthAdjust="spacingAndGlyphs">30</text>
<text x="2716.72" y="2053" font-size="22.8" fill="#4b4b4e" font-weight="bold" textLength="51.552" lengthAdjust="spacingAndGlyphs">2023</text>
<text x="2877.97" y="2053" font-size="22.8" fill="#4b4b4e" textLength="55.052" lengthAdjust="spacingAndGlyphs">03:00</text>
<text x="3070.67" y="2053" font-size="22.8" fill="#4b4b4e" textLength="11.652" lengthAdjust="spacingAndGlyphs">4</text>
<text x="3265.67" y="2053" font-size="22.8" fill="#4b4b4e" textLength="11.652" lengthAdjust="spacingAndGlyphs">5</text>
<text x="3461.67" y="2053" font-size="22.8" fill="#4b4b4e" textLength="11.652" lengthAdjust="spacingAndGlyphs">6</text>
<text x="3656.67" y="2053" font-size="22.8" fill="#4b4b4e" textLength="11.652" lengthAdjust="spacingAndGlyphs">9</text>
<path d="M1 2019H238V2060a4 4 0 0 1-4 4H5a4 4 0 0 1-4-4z" fill="#131722"/>
<text x="16.765" y="2053" font-size="23" fill="#fff" textLength="130.47" lengthAdjust="spacingAndGlyphs">вт 06 Дек '22</text>
<text x="165.865" y="2053" font-size="23" fill="#fff" textLength="55.97" lengthAdjust="spacingAndGlyphs">09:30</text>
<circle cx="3789.9" cy="2045.9" r="10" fill="none" stroke="#131722" stroke-width="2.2"/>
<path d="M3800.90 2045.90L3804.90 2045.90M3797.68 2053.68L3800.51 2056.51M3789.90 2056.90L3789.90 2060.90M3782.12 2053.68L3779.29 2056.51M3778.90 2045.90L3774.90 2045.90M3782.12 2038.12L3779.29 2035.29M3789.90 2034.90L3789.90 2030.90M3797.68 2038.12L3800.51 2035.29" stroke="#131722" stroke-width="2.2" fill="none"/>
</g>
<rect x="0" y="2074" width="3840" height="2" fill="#e0e3eb"/>
</svg>
</body></html>
